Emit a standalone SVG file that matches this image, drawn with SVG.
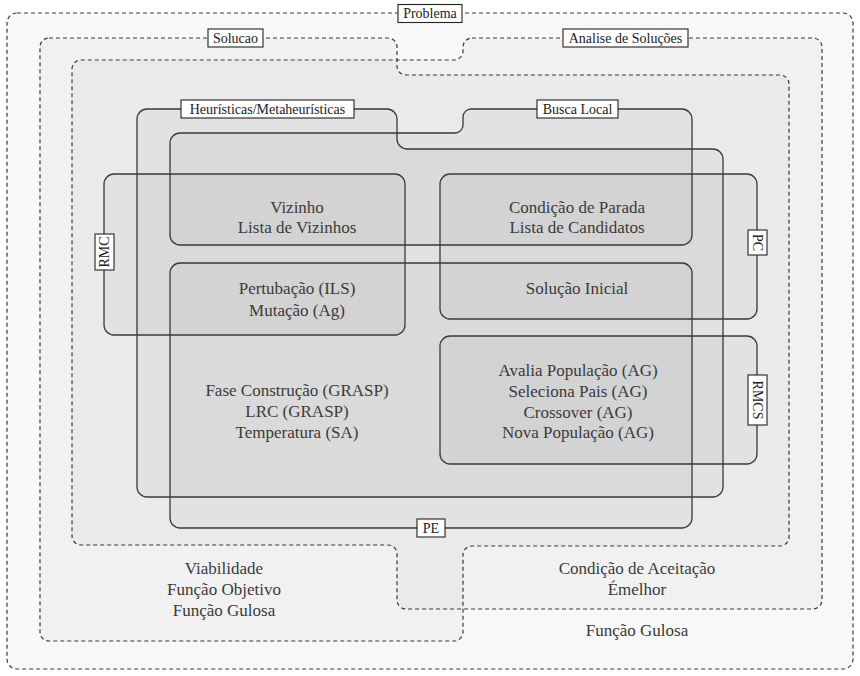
<svg xmlns="http://www.w3.org/2000/svg" width="860" height="676" viewBox="0 0 860 676">
<style>
.dash{fill:#000;fill-opacity:0.028;stroke:#3a3a3a;stroke-width:1.2;stroke-dasharray:4 3}
.solid{fill:#000;fill-opacity:0.032;stroke:#3a3a3a;stroke-width:1.3}
.lbl{fill:#fff;stroke:#222;stroke-width:1.1}
.lt{font-family:"Liberation Serif","Times New Roman",serif;font-size:14px;fill:#222;text-anchor:middle;dominant-baseline:central}
.t{font-family:"Liberation Serif","Times New Roman",serif;font-size:17px;fill:#3a3a3a;text-anchor:middle;dominant-baseline:central}
</style>
<rect width="860" height="676" fill="#fff"/>
<g id="problema">
<rect class="dash" x="7" y="13" width="846" height="656" rx="10"/>
</g>
<g id="solucao">
<path class="dash" d="M49,38 H388 A9,9 0 0 1 397,47 V66 A9,9 0 0 0 406,75 H780 A9,9 0 0 1 789,84 V537 A9,9 0 0 1 780,546 H472 A9,9 0 0 0 463,555 V632 A9,9 0 0 1 454,641 H49 A9,9 0 0 1 40,632 V47 A9,9 0 0 1 49,38 Z"/>
</g>
<g id="analise">
<path class="dash" d="M472,38 H813 A9,9 0 0 1 822,47 V600 A9,9 0 0 1 813,609 H406 A9,9 0 0 1 397,600 V554 A9,9 0 0 0 388,545 H81 A9,9 0 0 1 72,536 V69 A9,9 0 0 1 81,60 H454 A9,9 0 0 0 463,51 V47 A9,9 0 0 1 472,38 Z"/>
</g>
<g id="heuristicas">
<path class="solid" d="M147,109 H387 A10,10 0 0 1 397,119 V139 A10,10 0 0 0 407,149 H713 A10,10 0 0 1 723,159 V487 A10,10 0 0 1 713,497 H147 A10,10 0 0 1 137,487 V119 A10,10 0 0 1 147,109 Z"/>
</g>
<g id="buscalocal">
<path class="solid" d="M180,133 H455 A8,8 0 0 0 463,125 V117 A8,8 0 0 1 471,109 H682 A10,10 0 0 1 692,119 V235 A10,10 0 0 1 682,245 H180 A10,10 0 0 1 170,235 V143 A10,10 0 0 1 180,133 Z"/>
</g>
<g id="pe">
<rect class="solid" x="170" y="263" width="522" height="265" rx="10"/>
</g>
<g id="rmc">
<rect class="solid" x="104" y="174" width="301" height="161" rx="10"/>
</g>
<g id="pc">
<rect class="solid" x="440" y="174" width="317" height="145" rx="10"/>
</g>
<g id="rmcs">
<rect class="solid" x="440" y="336" width="317" height="128" rx="10"/>
</g>
<g id="connectors"></g>
<g id="texts">
<text class="t" x="297" y="207">Vizinho</text>
<text class="t" x="297" y="227">Lista de Vizinhos</text>
<text class="t" x="577" y="207">Condição de Parada</text>
<text class="t" x="577" y="227">Lista de Candidatos</text>
<text class="t" x="297" y="288">Pertubação (ILS)</text>
<text class="t" x="297" y="310">Mutação (Ag)</text>
<text class="t" x="577" y="288">Solução Inicial</text>
<text class="t" x="297" y="390">Fase Construção (GRASP)</text>
<text class="t" x="297" y="411">LRC (GRASP)</text>
<text class="t" x="297" y="432">Temperatura (SA)</text>
<text class="t" x="578" y="370">Avalia População (AG)</text>
<text class="t" x="578" y="391">Seleciona Pais (AG)</text>
<text class="t" x="578" y="412">Crossover (AG)</text>
<text class="t" x="578" y="432">Nova População (AG)</text>
<text class="t" x="224" y="568">Viabilidade</text>
<text class="t" x="224" y="589">Função Objetivo</text>
<text class="t" x="224" y="610">Função Gulosa</text>
<text class="t" x="637" y="568">Condição de Aceitação</text>
<text class="t" x="637" y="589">Émelhor</text>
<text class="t" x="637" y="630">Função Gulosa</text>
</g>
<g id="labels">
<rect class="lbl" x="398" y="4.5" width="64" height="18"/>
<text class="lt" x="430" y="13.5">Problema</text>
<rect class="lbl" x="208" y="29" width="55" height="18"/>
<text class="lt" x="235.5" y="38">Solucao</text>
<rect class="lbl" x="563" y="29" width="125" height="18"/>
<text class="lt" x="625.5" y="38">Analise de Soluções</text>
<rect class="lbl" x="181" y="100" width="173" height="18"/>
<text class="lt" x="267.5" y="109">Heurísticas/Metaheurísticas</text>
<rect class="lbl" x="537" y="100" width="81" height="18"/>
<text class="lt" x="577.5" y="109">Busca Local</text>
<rect class="lbl" x="417" y="519" width="28" height="18"/>
<text class="lt" x="431" y="528">PE</text>
<rect class="lbl" x="95" y="234" width="19" height="36"/>
<text class="lt" transform="translate(104.5,252) rotate(-90)">RMC</text>
<rect class="lbl" x="748" y="230" width="19" height="25"/>
<text class="lt" transform="translate(757.5,242.5) rotate(90)">PC</text>
<rect class="lbl" x="748" y="375" width="19" height="50"/>
<text class="lt" transform="translate(757.5,400) rotate(90)">RMCS</text>
</g>
</svg>
